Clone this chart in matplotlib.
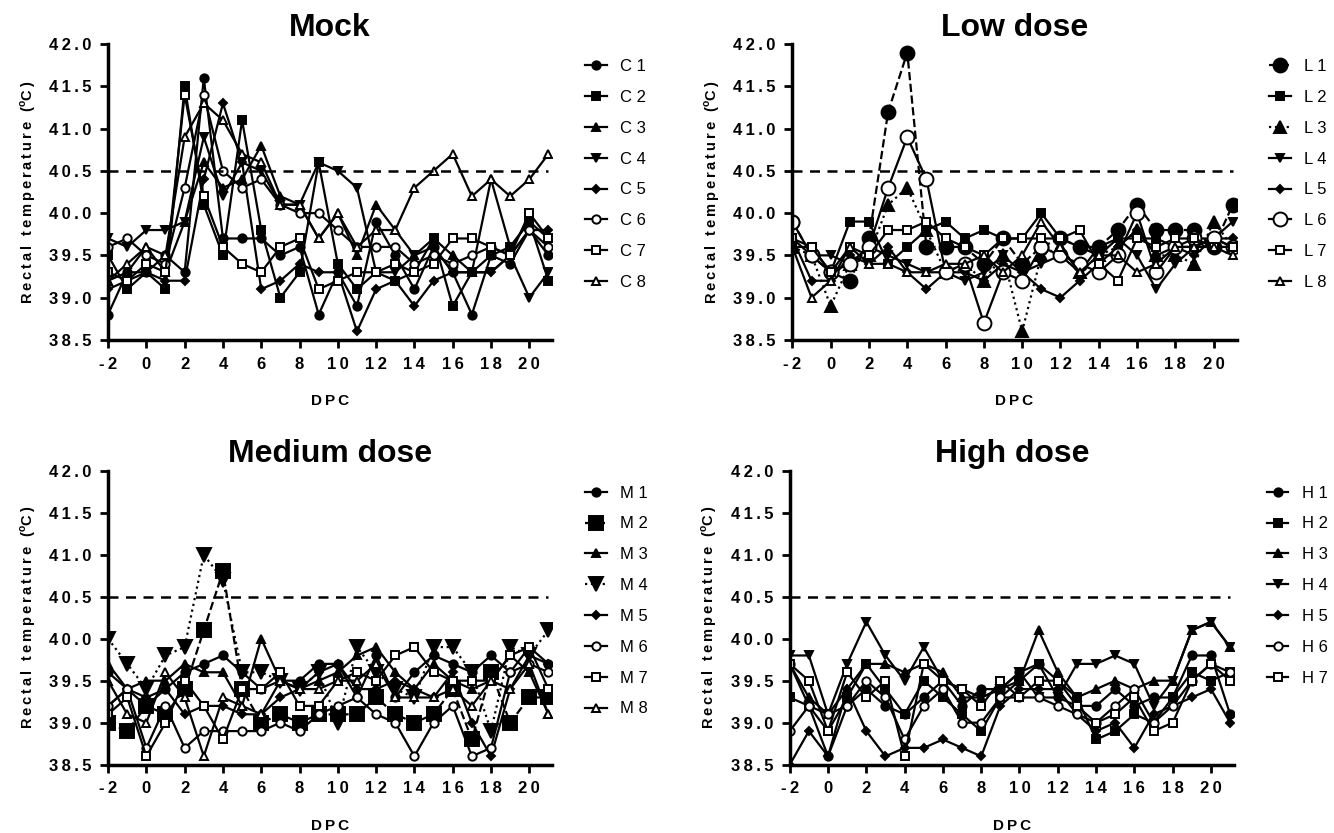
import matplotlib
matplotlib.use('Agg')
import matplotlib.pyplot as plt

plt.rcParams['font.family'] = ['Liberation Sans', 'DejaVu Sans']
plt.rcParams['axes.unicode_minus'] = False

days = list(range(-2, 22))

# Mock
C1 = [38.8, 39.3, 39.3, 39.5, 39.3, 41.6, 39.7, 39.7, 39.7, 39.5, 39.6, 38.8, 39.3, 38.9, 39.9, 39.5, 39.1, 39.6, 39.3, 38.8, 39.5, 39.4, 39.8, 39.5]
C2 = [39.5, 39.1, 39.3, 39.1, 41.5, 40.1, 39.5, 41.1, 39.8, 39.0, 39.3, 40.6, 39.4, 39.1, 39.3, 39.2, 39.3, 39.7, 38.9, 39.3, 39.5, 39.6, 39.9, 39.2]
C3 = [39.2, 39.3, 39.6, 39.3, 39.9, 40.6, 40.3, 40.4, 40.8, 40.2, 40.1, 39.7, 40.0, 39.5, 40.1, 39.8, 39.5, 39.7, 39.5, 39.3, 40.4, 39.6, 39.9, 39.7]
C4 = [39.7, 39.6, 39.8, 39.8, 39.9, 40.9, 40.2, 40.6, 40.5, 40.1, 40.1, 40.6, 40.5, 40.3, 39.3, 39.3, 39.5, 39.6, 39.3, 39.3, 39.3, 39.5, 39.0, 39.3]
C5 = [39.1, 39.2, 39.3, 39.2, 39.2, 40.4, 41.3, 40.6, 39.1, 39.2, 39.4, 39.3, 39.3, 38.6, 39.1, 39.2, 38.9, 39.2, 39.3, 39.3, 39.3, 39.5, 39.8, 39.8]
C6 = [39.6, 39.7, 39.5, 39.4, 40.3, 41.4, 40.5, 40.3, 40.4, 40.1, 40.0, 40.0, 39.8, 39.6, 39.6, 39.6, 39.4, 39.5, 39.4, 39.5, 39.6, 39.5, 39.8, 39.6]
C7 = [39.3, 39.2, 39.4, 39.3, 41.4, 40.2, 39.6, 39.4, 39.3, 39.6, 39.7, 39.1, 39.2, 39.3, 39.3, 39.4, 39.3, 39.4, 39.7, 39.7, 39.6, 39.5, 40.0, 39.7]
C8 = [39.2, 39.4, 39.6, 39.5, 40.9, 41.3, 41.1, 40.7, 40.6, 40.1, 40.1, 39.7, 40.0, 39.6, 39.8, 39.8, 40.3, 40.5, 40.7, 40.2, 40.4, 40.2, 40.4, 40.7]

# Low dose
L1 = [39.9, 39.5, 39.3, 39.2, 39.7, 41.2, 41.9, 39.6, 39.6, 39.6, 39.4, 39.7, 39.4, 39.6, 39.7, 39.6, 39.6, 39.8, 40.1, 39.8, 39.8, 39.8, 39.6, 40.1]
L2 = [39.6, 39.6, 39.3, 39.9, 39.9, 39.4, 39.6, 39.8, 39.9, 39.7, 39.8, 39.7, 39.7, 40.0, 39.7, 39.6, 39.5, 39.7, 39.7, 39.7, 39.6, 39.6, 39.7, 39.6]
L3 = [39.6, 39.5, 38.9, 39.4, 39.5, 40.1, 40.3, 39.8, 39.3, 39.4, 39.2, 39.5, 38.6, 39.5, 39.6, 39.3, 39.5, 39.6, 39.8, 39.5, 39.5, 39.4, 39.9, 39.6]
L4 = [39.7, 39.5, 39.5, 39.4, 39.6, 39.5, 39.4, 39.3, 39.3, 39.2, 39.3, 39.5, 39.3, 39.4, 39.5, 39.3, 39.6, 39.7, 39.5, 39.1, 39.4, 39.6, 39.7, 39.9]
L5 = [39.7, 39.2, 39.2, 39.5, 39.4, 39.6, 39.3, 39.1, 39.3, 39.3, 39.2, 39.4, 39.3, 39.1, 39.0, 39.2, 39.4, 39.6, 39.8, 39.5, 39.6, 39.5, 39.7, 39.7]
L6 = [39.9, 39.5, 39.3, 39.4, 39.6, 40.3, 40.9, 40.4, 39.3, 39.4, 38.7, 39.3, 39.2, 39.6, 39.5, 39.4, 39.3, 39.5, 40.0, 39.3, 39.6, 39.7, 39.7, 39.6]
L7 = [39.7, 39.6, 39.3, 39.6, 39.5, 39.8, 39.8, 39.9, 39.7, 39.6, 39.5, 39.7, 39.7, 39.7, 39.7, 39.8, 39.4, 39.2, 39.7, 39.6, 39.7, 39.7, 39.6, 39.6]
L8 = [39.6, 39.0, 39.2, 39.6, 39.4, 39.4, 39.3, 39.3, 39.4, 39.4, 39.5, 39.3, 39.5, 39.9, 39.6, 39.3, 39.5, 39.5, 39.3, 39.4, 39.6, 39.6, 39.6, 39.5]

# Medium dose
M1 = [39.6, 39.4, 39.2, 39.4, 39.6, 39.7, 39.8, 39.6, 39.4, 39.5, 39.5, 39.7, 39.7, 39.3, 39.8, 39.3, 39.6, 39.8, 39.7, 39.6, 39.8, 39.6, 39.9, 39.7]
M2 = [39.0, 38.9, 39.2, 39.1, 39.4, 40.1, 40.8, 39.4, 39.0, 39.1, 39.0, 39.1, 39.1, 39.1, 39.3, 39.1, 39.0, 39.1, 39.4, 38.8, 39.6, 39.0, 39.3, 39.3]
M3 = [39.7, 39.4, 39.5, 39.5, 39.7, 39.6, 39.6, 39.2, 40.0, 39.5, 39.4, 39.5, 39.6, 39.8, 39.9, 39.6, 39.4, 39.7, 39.5, 39.4, 39.5, 39.8, 39.6, 39.1]
M4 = [40.0, 39.7, 39.4, 39.8, 39.9, 41.0, 40.7, 39.6, 39.6, 39.5, 39.4, 39.6, 39.0, 39.9, 39.6, 39.4, 39.3, 39.9, 39.9, 39.6, 38.9, 39.9, 39.8, 40.1]
M5 = [39.2, 39.4, 39.3, 39.4, 39.1, 39.2, 39.2, 39.1, 39.1, 39.3, 39.4, 39.6, 39.7, 39.4, 39.4, 39.5, 39.4, 39.3, 39.6, 39.0, 38.6, 39.4, 39.8, 39.7]
M6 = [39.2, 39.4, 38.7, 39.2, 38.7, 38.9, 38.9, 38.9, 38.9, 39.0, 38.9, 39.1, 39.2, 39.3, 39.1, 39.0, 38.6, 39.0, 39.2, 38.6, 38.7, 39.6, 39.7, 39.6]
M7 = [39.1, 39.3, 38.6, 39.0, 39.5, 39.2, 38.8, 39.4, 39.4, 39.6, 39.2, 39.2, 39.5, 39.6, 39.5, 39.8, 39.9, 39.6, 39.5, 39.5, 39.5, 39.8, 39.9, 39.4]
M8 = [39.5, 39.1, 39.0, 39.6, 39.3, 38.6, 39.3, 39.2, 39.1, 39.5, 39.4, 39.4, 39.5, 39.5, 39.7, 39.3, 39.3, 39.3, 39.4, 39.2, 39.5, 39.4, 39.7, 39.1]

# High dose
H1 = [39.7, 39.2, 38.6, 39.2, 39.4, 39.2, 39.1, 39.3, 39.5, 39.2, 39.4, 39.4, 39.6, 39.7, 39.3, 39.2, 39.2, 39.4, 39.2, 39.3, 39.3, 39.8, 39.8, 39.1]
H2 = [39.3, 39.2, 38.9, 39.3, 39.7, 39.4, 39.1, 39.5, 39.3, 39.1, 38.9, 39.3, 39.5, 39.7, 39.5, 39.3, 38.8, 38.9, 39.1, 39.0, 39.3, 39.6, 39.5, 39.6]
H3 = [39.7, 39.3, 39.1, 39.4, 39.7, 39.7, 39.6, 39.7, 39.6, 39.3, 39.3, 39.4, 39.5, 40.1, 39.6, 39.3, 39.4, 39.5, 39.4, 39.5, 39.5, 40.1, 40.2, 39.9]
H4 = [39.8, 39.8, 39.1, 39.7, 40.2, 39.8, 39.5, 39.9, 39.5, 39.4, 39.3, 39.4, 39.6, 39.3, 39.3, 39.7, 39.7, 39.8, 39.7, 39.2, 39.5, 40.1, 40.2, 39.9]
H5 = [38.5, 38.9, 38.6, 39.4, 38.9, 38.6, 38.7, 38.7, 38.8, 38.7, 38.6, 39.2, 39.4, 39.4, 39.4, 39.1, 38.9, 39.0, 38.7, 39.1, 39.2, 39.3, 39.4, 39.0]
H6 = [38.9, 39.2, 39.1, 39.2, 39.5, 39.3, 38.8, 39.2, 39.4, 39.0, 39.0, 39.3, 39.3, 39.3, 39.2, 39.1, 39.0, 39.2, 39.4, 39.0, 39.2, 39.5, 39.7, 39.6]
H7 = [39.7, 39.5, 38.9, 39.6, 39.3, 39.5, 38.6, 39.7, 39.5, 39.4, 39.2, 39.5, 39.3, 39.5, 39.5, 39.2, 39.0, 39.1, 39.3, 38.9, 39.0, 39.5, 39.7, 39.5]

y_ticks = [38.5, 39.0, 39.5, 40.0, 40.5, 41.0, 41.5, 42.0]
x_ticks = list(range(-2, 21, 2))

# marker, filled, size, linestyle
base = [('o', True, 6, '-'), ('s', True, 6, '-'), ('^', True, 6, '-'), ('v', True, 6, '-'),
        ('D', True, 4, '-'), ('o', False, 6, '-'), ('s', False, 6, '-'), ('^', False, 6, '-')]
low_st = list(base)
low_st[0] = ('o', True, 10, '--')
low_st[2] = ('^', True, 8, ':')
low_st[5] = ('o', False, 10, '-')
med_st = list(base)
med_st[1] = ('s', True, 10, '--')
med_st[3] = ('v', True, 10, ':')

panels = [
    ('Mock', 'C', [C1, C2, C3, C4, C5, C6, C7, C8], base, [0.081, 0.592, 0.333, 0.355]),
    ('Low dose', 'L', [L1, L2, L3, L4, L5, L6, L7, L8], low_st, [0.594, 0.592, 0.333, 0.355]),
    ('Medium dose', 'M', [M1, M2, M3, M4, M5, M6, M7, M8], med_st, [0.081, 0.082, 0.333, 0.353]),
    ('High dose', 'H', [H1, H2, H3, H4, H5, H6, H7], base, [0.592, 0.082, 0.333, 0.353]),
]


def spaced(s):
    # GraphPad-style letter spacing
    return '\u2009'.join(s)


fig = plt.figure(figsize=(13.34, 8.33), dpi=100)

for title, pre, series, styles, pos in panels:
    ax = fig.add_axes(pos)
    for i, vals in enumerate(series):
        m, filled, ms, ls = styles[i]
        ax.plot(days, vals, color='black', linestyle=ls, linewidth=1.6,
                marker=m, markersize=ms, markeredgewidth=1.4,
                markerfacecolor='black' if filled else 'white',
                markeredgecolor='black', label='%s %d' % (pre, i + 1))
    ax.plot([-2, 21], [40.5, 40.5], color='black', linestyle=(0, (4, 3)), linewidth=1.8)
    ax.set_xlim(-2, 21.2)
    ax.set_ylim(38.5, 42.0)
    ax.set_xticks(x_ticks)
    ax.set_xticklabels([spaced(str(v)) for v in x_ticks], fontweight='bold')
    ax.set_yticks(y_ticks)
    ax.set_yticklabels([spaced('%.1f' % v) for v in y_ticks], fontweight='bold')
    for s in ['top', 'right']:
        ax.spines[s].set_visible(False)
    for s in ['left', 'bottom']:
        ax.spines[s].set_linewidth(2.5)
    ax.tick_params(width=2, length=6, labelsize=12, direction='out', pad=6)
    ax.set_title(title, fontsize=23, fontweight='bold', pad=6)
    ax.set_xlabel(spaced('DPC'), fontsize=11, fontweight='bold', labelpad=16)
    ax.set_ylabel(spaced('Rectal temperature (') + '$^\\mathregular{o}$' + spaced('C)'),
                  fontsize=10.5, fontweight='bold', labelpad=8)
    ax.legend(loc='upper left', bbox_to_anchor=(1.04, 1.0), frameon=False,
              handlelength=1.3, labelspacing=0.95, fontsize=12)

fig.savefig('out.png', dpi=100)
